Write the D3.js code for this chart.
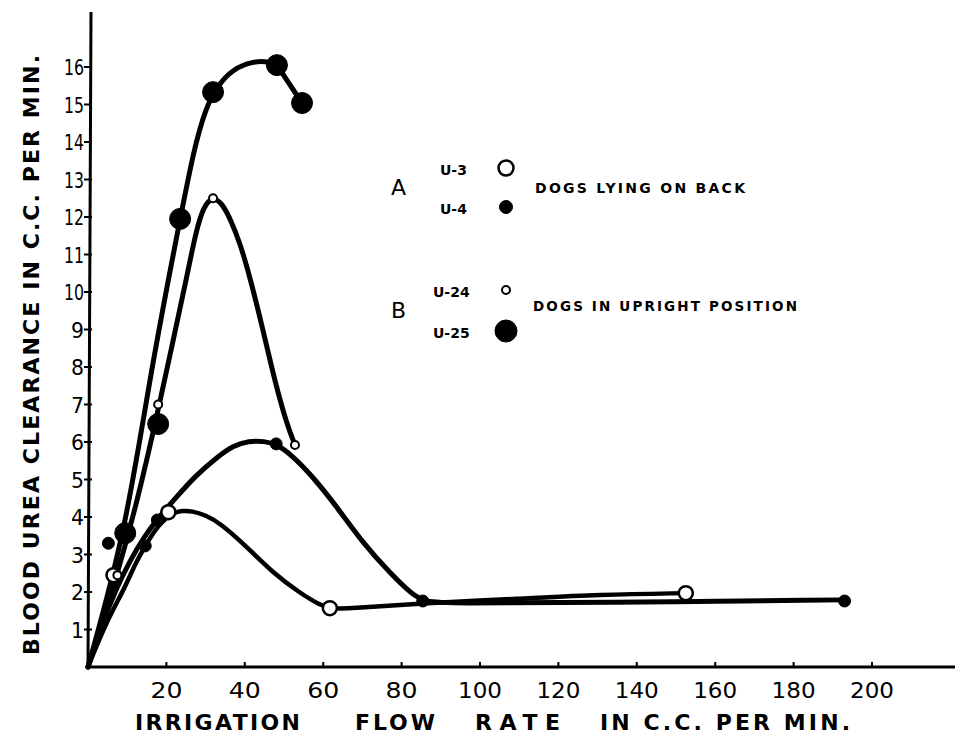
<!DOCTYPE html>
<html>
<head>
<meta charset="utf-8">
<script src="https://cdn.jsdelivr.net/npm/d3@7"></script>
<style>
  body { margin: 0; background: #fff; }
  text { font-family: "DejaVu Sans", sans-serif; fill: #000; }
</style>
</head>
<body>
<div id="chart"></div>
<script>
const WIDTH = 956;
const HEIGHT = 740;

// tick values
const xTicks = [20, 40, 60, 80, 100, 120, 140, 160, 180, 200];
const yTicks = [1, 2, 3, 4, 5, 6, 7, 8, 9, 10, 11, 12, 13, 14, 15, 16];

// measured points [flow, clearance]
const u3Points = [[6.5, 2.45], [20.5, 4.13], [61.7, 1.57], [152.5, 1.97]];
const u4Points = [[5.2, 3.3], [14.6, 3.23], [17.7, 3.92], [48, 5.95], [85.4, 1.76], [193, 1.76]];
const u24Points = [[7.5, 2.45], [17.9, 7.0], [31.9, 12.5], [52.8, 5.92]];
const u25Points = [[9.5, 3.57], [17.9, 6.48], [23.5, 11.95], [31.9, 15.33], [48.2, 16.05], [54.6, 15.04]];

// hand drawn curves
const u25Curve = [[0, 0], [9.5, 3.57], [16, 7.9], [23.5, 11.95], [27, 13.8], [30, 14.9], [33, 15.5],
  [37, 15.95], [42, 16.15], [46, 16.15], [48.2, 16.05]];
const u25Tail = [[48.2, 16.05], [54.6, 15.04]];
const u24Curve = [[0, 0], [7.5, 2.45], [13, 4.6], [17.9, 6.85], [21.5, 8.6], [25, 10.3], [27.5, 11.6],
  [29.5, 12.3], [31.9, 12.55], [34.3, 12.35], [36.3, 11.95], [38.8, 11.3], [41.3, 10.4], [44.4, 9.1],
  [47.7, 7.6], [50.8, 6.45], [52.8, 5.92]];
const u4Curve = [[0, 0], [3.2, 1.04], [7, 2.05], [10.8, 2.85], [14.1, 3.44], [17.7, 3.95], [22.3, 4.5],
  [27.4, 5.1], [33, 5.6], [37, 5.9], [41, 6.03], [45, 6.02], [48, 5.95], [52, 5.65], [57.4, 5.07],
  [63.5, 4.27], [70.1, 3.31], [77, 2.51], [82.8, 1.92], [86, 1.74], [92, 1.7], [130, 1.72], [193, 1.79]];
const u3Curve = [[0, 0], [4.5, 1.17], [9.5, 2.13], [12.1, 2.77], [14.6, 3.23], [17.9, 3.79], [21.5, 4.11],
  [24, 4.17], [26.5, 4.16], [30, 4.05], [33.7, 3.84], [40.6, 3.2], [47.2, 2.51], [54.1, 1.97],
  [59.2, 1.65], [62, 1.56], [66, 1.55], [85.9, 1.71], [110, 1.82], [130.4, 1.93], [152.5, 1.97]];

let svg = d3
  .select("#chart")
  .append("svg")
  .attr("width", WIDTH)
  .attr("height", HEIGHT);

const x = d3.scaleLinear().domain([0, 200]).range([88, 872]);
const y = d3.scaleLinear().domain([0, 16]).range([667, 67]);

//axes
svg.append("line")
  .attr("x1", x(0) + 3).attr("y1", 12).attr("x2", x(0)).attr("y2", y(0))
  .attr("stroke", "#000").attr("stroke-width", 3);
svg.append("line")
  .attr("x1", x(0) - 1).attr("y1", y(0)).attr("x2", 955).attr("y2", y(0))
  .attr("stroke", "#000").attr("stroke-width", 3);

//x ticks
svg.selectAll(".xtick")
  .data(xTicks)
  .enter()
  .append("line")
  .attr("x1", (d) => x(d)).attr("x2", (d) => x(d))
  .attr("y1", y(0)).attr("y2", y(0) - 5)
  .attr("stroke", "#000").attr("stroke-width", 2);
svg.selectAll(".xlabel")
  .data(xTicks)
  .enter()
  .append("text")
  .attr("x", (d) => x(d))
  .attr("y", 698)
  .attr("text-anchor", "middle")
  .style("font-size", "21px")
  .attr("textLength", (d) => (d >= 100 ? 44 : 32))
  .attr("lengthAdjust", "spacingAndGlyphs")
  .text((d) => d);

//y ticks
svg.selectAll(".ytick")
  .data(yTicks)
  .enter()
  .append("line")
  .attr("x1", x(0) - 4).attr("x2", x(0) + 4)
  .attr("y1", (d) => y(d)).attr("y2", (d) => y(d))
  .attr("stroke", "#000").attr("stroke-width", 2);
svg.selectAll(".ylabel")
  .data(yTicks)
  .enter()
  .append("text")
  .attr("x", 84)
  .attr("y", (d) => y(d) + 8)
  .attr("text-anchor", "end")
  .style("font-size", "22px")
  .attr("textLength", (d) => (d >= 10 ? 20 : 13))
  .attr("lengthAdjust", "spacingAndGlyphs")
  .text((d) => d);

//axis titles
svg.append("text")
  .attr("transform", "translate(39, 355) rotate(-90)")
  .attr("text-anchor", "middle")
  .style("font-size", "22px")
  .style("font-weight", "bold")
  .attr("textLength", 600)
  .attr("lengthAdjust", "spacing")
  .text("BLOOD UREA CLEARANCE IN C.C. PER MIN.");

const xTitle = svg.append("g").style("font-size", "22px").style("font-weight", "bold");
xTitle.append("text").attr("x", 135).attr("y", 730).attr("textLength", 165).attr("lengthAdjust", "spacing").text("IRRIGATION");
xTitle.append("text").attr("x", 355).attr("y", 730).attr("textLength", 80).attr("lengthAdjust", "spacing").text("FLOW");
xTitle.append("text").attr("x", 475).attr("y", 730).attr("textLength", 85).attr("lengthAdjust", "spacing").text("RATE");
xTitle.append("text").attr("x", 600).attr("y", 730).attr("textLength", 250).attr("lengthAdjust", "spacing").text("IN C.C. PER MIN.");

//curves (b-spline through the traced points to smooth the hand drawing)
const smooth = d3.line()
  .x((d) => x(d[0]))
  .y((d) => y(d[1]))
  .curve(d3.curveBasis);
const straight = d3.line()
  .x((d) => x(d[0]))
  .y((d) => y(d[1]));

const curves = svg.append("g")
  .attr("fill", "none")
  .attr("stroke", "#000")
  .attr("stroke-linecap", "round")
  .attr("stroke-linejoin", "round");
curves.append("path").attr("d", smooth(u25Curve)).attr("stroke-width", 5);
curves.append("path").attr("d", straight(u25Tail)).attr("stroke-width", 5);
curves.append("path").attr("d", smooth(u24Curve)).attr("stroke-width", 5);
curves.append("path").attr("d", smooth(u4Curve)).attr("stroke-width", 5);
curves.append("path").attr("d", smooth(u3Curve)).attr("stroke-width", 4.5);

//markers
function drawPoints(data, r, filled, sw) {
  svg.append("g")
    .selectAll("circle")
    .data(data)
    .enter()
    .append("circle")
    .attr("cx", (d) => x(d[0]))
    .attr("cy", (d) => y(d[1]))
    .attr("r", r)
    .attr("fill", filled ? "#000" : "#fff")
    .attr("stroke", "#000")
    .attr("stroke-width", sw);
}
drawPoints(u3Points, 7, false, 2.5);
drawPoints(u24Points, 4, false, 2);
drawPoints(u4Points, 6, true, 1);
drawPoints(u25Points, 10.5, true, 1);

//legend
const legend = svg.append("g");
legend.append("text").attr("x", 391).attr("y", 195).style("font-size", "22px").text("A");
legend.append("text").attr("x", 391).attr("y", 318).style("font-size", "22px").text("B");

const legendItems = [
  { label: "U-3", lx: 440, ly: 175, cy: 168, r: 7.5, filled: false, sw: 2.5 },
  { label: "U-4", lx: 440, ly: 214, cy: 207, r: 6.5, filled: true, sw: 1 },
  { label: "U-24", lx: 433, ly: 297, cy: 290, r: 4, filled: false, sw: 2 },
  { label: "U-25", lx: 433, ly: 338, cy: 331, r: 11, filled: true, sw: 1 },
];
legendItems.forEach((d) => {
  legend.append("text")
    .attr("x", d.lx).attr("y", d.ly)
    .style("font-size", "14px").style("font-weight", "bold")
    .text(d.label);
  legend.append("circle")
    .attr("cx", 506).attr("cy", d.cy).attr("r", d.r)
    .attr("fill", d.filled ? "#000" : "#fff")
    .attr("stroke", "#000").attr("stroke-width", d.sw);
});
legend.append("text").attr("x", 535).attr("y", 193)
  .style("font-size", "14px").style("font-weight", "bold")
  .attr("textLength", 210).attr("lengthAdjust", "spacing")
  .text("DOGS LYING ON BACK");
legend.append("text").attr("x", 533).attr("y", 311)
  .style("font-size", "13.5px").style("font-weight", "bold")
  .attr("textLength", 264).attr("lengthAdjust", "spacing")
  .text("DOGS IN UPRIGHT POSITION");
</script>
</body>
</html>
